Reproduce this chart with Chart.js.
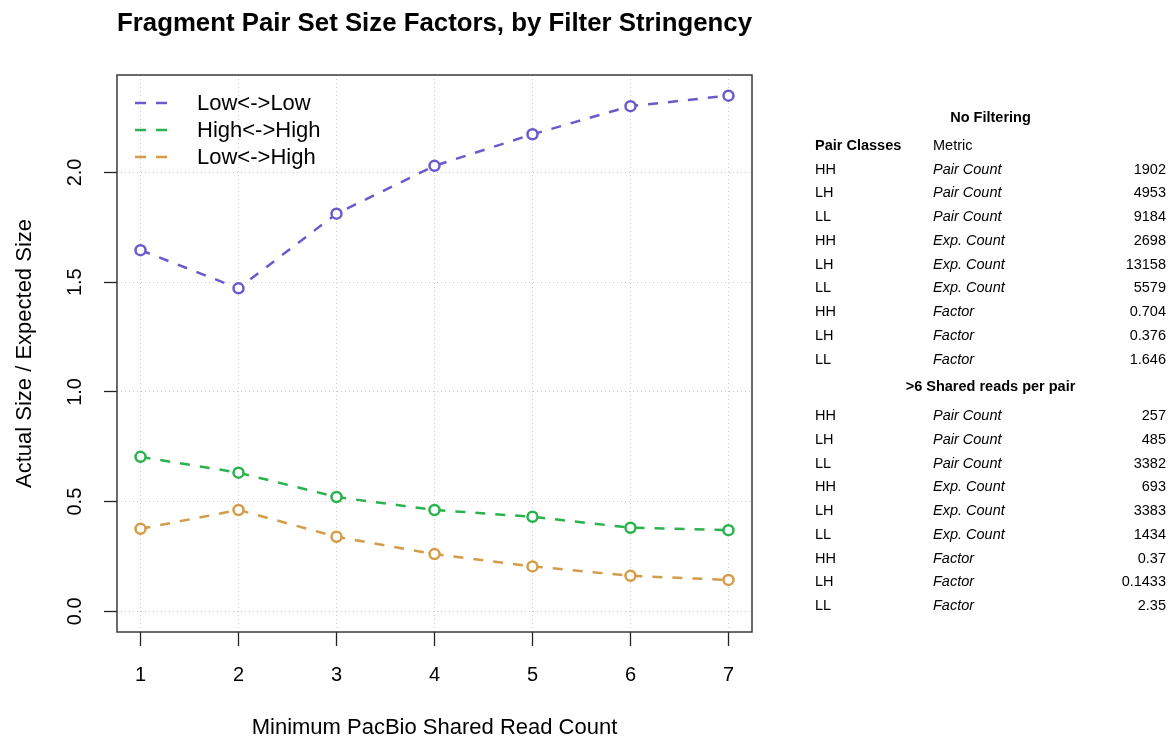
<!DOCTYPE html>
<html>
<head>
<meta charset="utf-8">
<title>Fragment Pair Set Size Factors</title>
<script src="https://cdn.jsdelivr.net/npm/chart.js@4"></script>
<style>
  html, body { margin: 0; padding: 0; background: #ffffff; }
  canvas { display: block; }
</style>
</head>
<body>
<canvas id="chart" width="1170" height="737"></canvas>
<script>
const FONT = "'Liberation Sans', Arial, Helvetica, sans-serif";

// Minimum number of PacBio reads shared by a fragment pair
const minShared = [1, 2, 3, 4, 5, 6, 7];

// Actual / expected set size for each pair class
const lowLow   = [1.646, 1.472, 1.812, 2.030, 2.174, 2.302, 2.35];
const highHigh = [0.704, 0.632, 0.521, 0.462, 0.431, 0.381, 0.37];
const lowHigh  = [0.376, 0.462, 0.340, 0.261, 0.205, 0.162, 0.1433];

const seriesNames  = ['Low<->Low', 'High<->High', 'Low<->High'];
const seriesColors = ['#6A5ACD', '#2BB24C', '#D49C48'];

const yTicks = [0, 0.5, 1.0, 1.5, 2.0];
const yRange = [-0.094, 2.444];
const xRange = [0.76, 7.24];

// Summary table
const tableClasses = ['HH', 'LH', 'LL', 'HH', 'LH', 'LL', 'HH', 'LH', 'LL'];
const tableMetrics = ['Pair Count', 'Pair Count', 'Pair Count',
                      'Exp. Count', 'Exp. Count', 'Exp. Count',
                      'Factor', 'Factor', 'Factor'];
const noFilterValues = [1902, 4953, 9184, 2698, 13158, 5579, 0.704, 0.376, 1.646];
const filteredValues = [257, 485, 3382, 693, 3383, 1434, 0.37, 0.1433, 2.35];

const seriesValues = [lowLow, highHigh, lowHigh];

Chart.defaults.font.family = FONT;
Chart.defaults.color = '#000';

// Frame around the plotting region
const boxPlugin = {
  id: 'plotBox',
  afterDraw(chart) {
    const { ctx, chartArea: a } = chart;
    ctx.save();
    ctx.strokeStyle = '#3a3a3a';
    ctx.lineWidth = 1.5;
    ctx.setLineDash([]);
    ctx.strokeRect(a.left, a.top, a.right - a.left, a.bottom - a.top);
    ctx.restore();
  }
};

// Legend drawn inside the top-left corner of the plot
const insetLegend = {
  id: 'insetLegend',
  afterDraw(chart) {
    const { ctx, chartArea: a } = chart;
    ctx.save();
    chart.data.datasets.forEach((ds, i) => {
      const y = a.top + 28 + i * 27;
      ctx.strokeStyle = ds.borderColor;
      ctx.lineWidth = 2.5;
      ctx.setLineDash([11, 10]);
      ctx.beginPath();
      ctx.moveTo(a.left + 18, y);
      ctx.lineTo(a.left + 53, y);
      ctx.stroke();
      ctx.setLineDash([]);
      ctx.fillStyle = '#000';
      ctx.font = '22px ' + FONT;
      ctx.textAlign = 'left';
      ctx.textBaseline = 'middle';
      ctx.fillText(ds.label, a.left + 80, y + 1);
    });
    ctx.restore();
  }
};

// Counts table to the right of the plot
const tablePlugin = {
  id: 'countsTable',
  afterDraw(chart) {
    const { ctx, chartArea: a } = chart;
    const colClass = a.right + 63;
    const colMetric = a.right + 181;
    const colValue = chart.width - 4;
    const center = (colClass + colValue) / 2;
    const rowStep = 23.75;
    const size = 14.5;
    ctx.save();
    ctx.fillStyle = '#000';
    ctx.textBaseline = 'middle';

    const heading = (text, y) => {
      ctx.font = 'bold ' + size + 'px ' + FONT;
      ctx.textAlign = 'center';
      ctx.fillText(text, center, y);
    };
    const block = (values, y0) => {
      values.forEach((v, i) => {
        const y = y0 + i * rowStep;
        ctx.font = size + 'px ' + FONT;
        ctx.textAlign = 'left';
        ctx.fillText(tableClasses[i], colClass, y);
        ctx.font = 'italic ' + size + 'px ' + FONT;
        ctx.fillText(tableMetrics[i], colMetric, y);
        ctx.font = size + 'px ' + FONT;
        ctx.textAlign = 'right';
        ctx.fillText(String(v), colValue, y);
      });
    };

    heading('No Filtering', 117.5);
    ctx.font = 'bold ' + size + 'px ' + FONT;
    ctx.textAlign = 'left';
    ctx.fillText('Pair Classes', colClass, 145.5);
    ctx.font = size + 'px ' + FONT;
    ctx.fillText('Metric', colMetric, 145.5);
    block(noFilterValues, 169.5);

    heading('>6 Shared reads per pair', 386.5);
    block(filteredValues, 416);
    ctx.restore();
  }
};

const datasets = seriesNames.map((name, i) => ({
  label: name,
  data: minShared.map((x, j) => ({ x: x, y: seriesValues[i][j] })),
  borderColor: seriesColors[i],
  backgroundColor: seriesColors[i],
  borderWidth: 2.5,
  borderDash: [10, 10],
  pointRadius: 5,
  pointBorderWidth: 2.5,
  pointBackgroundColor: '#ffffff',
  pointBorderColor: seriesColors[i],
  tension: 0,
  fill: false
}));

const gridStyle = {
  color: '#cccccc',
  lineWidth: 1,
  drawOnChartArea: true,
  drawTicks: true,
  tickColor: '#222222',
  tickWidth: 1.3,
  tickBorderDash: []
};

new Chart(document.getElementById('chart'), {
  type: 'line',
  data: { datasets },
  options: {
    responsive: false,
    animation: false,
    devicePixelRatio: 1,
    layout: { padding: { left: 0, right: 418, top: 0, bottom: 0 } },
    plugins: {
      legend: { display: false },
      tooltip: { enabled: false },
      title: {
        display: true,
        text: 'Fragment Pair Set Size Factors, by Filter Stringency',
        fullSize: false,
        color: '#000',
        font: { size: 26, weight: 'bold', lineHeight: 1.2 },
        padding: { top: 8.4, bottom: 35.4 }
      }
    },
    scales: {
      x: {
        type: 'linear',
        min: xRange[0],
        max: xRange[1],
        afterBuildTicks: s => { s.ticks = minShared.map(v => ({ value: v })); },
        afterFit: s => { s.height = 105; },
        grid: Object.assign({}, gridStyle, { tickLength: 14 }),
        border: { display: false, dash: [1, 3] },
        ticks: {
          font: { size: 20 },
          color: '#000',
          padding: 17,
          minRotation: 0,
          maxRotation: 0,
          autoSkip: false,
          callback: v => String(v)
        },
        title: {
          display: true,
          text: 'Minimum PacBio Shared Read Count',
          color: '#000',
          font: { size: 22, lineHeight: 0.85 },
          padding: { top: 0, bottom: 0 }
        }
      },
      y: {
        type: 'linear',
        min: yRange[0],
        max: yRange[1],
        afterBuildTicks: s => { s.ticks = yTicks.map(v => ({ value: v })); },
        afterFit: s => { s.width = 117; },
        grid: Object.assign({}, gridStyle, { tickLength: 13 }),
        border: { display: false, dash: [1, 3] },
        ticks: {
          font: { size: 20 },
          color: '#000',
          padding: 14.5,
          minRotation: 90,
          maxRotation: 90,
          crossAlign: 'center',
          autoSkip: false,
          callback: v => Number(v).toFixed(1)
        },
        title: {
          display: true,
          text: 'Actual Size / Expected Size',
          color: '#000',
          font: { size: 22, lineHeight: 1.0 },
          padding: { top: 14, bottom: 0 }
        }
      }
    }
  },
  plugins: [boxPlugin, insetLegend, tablePlugin]
});
</script>
</body>
</html>
